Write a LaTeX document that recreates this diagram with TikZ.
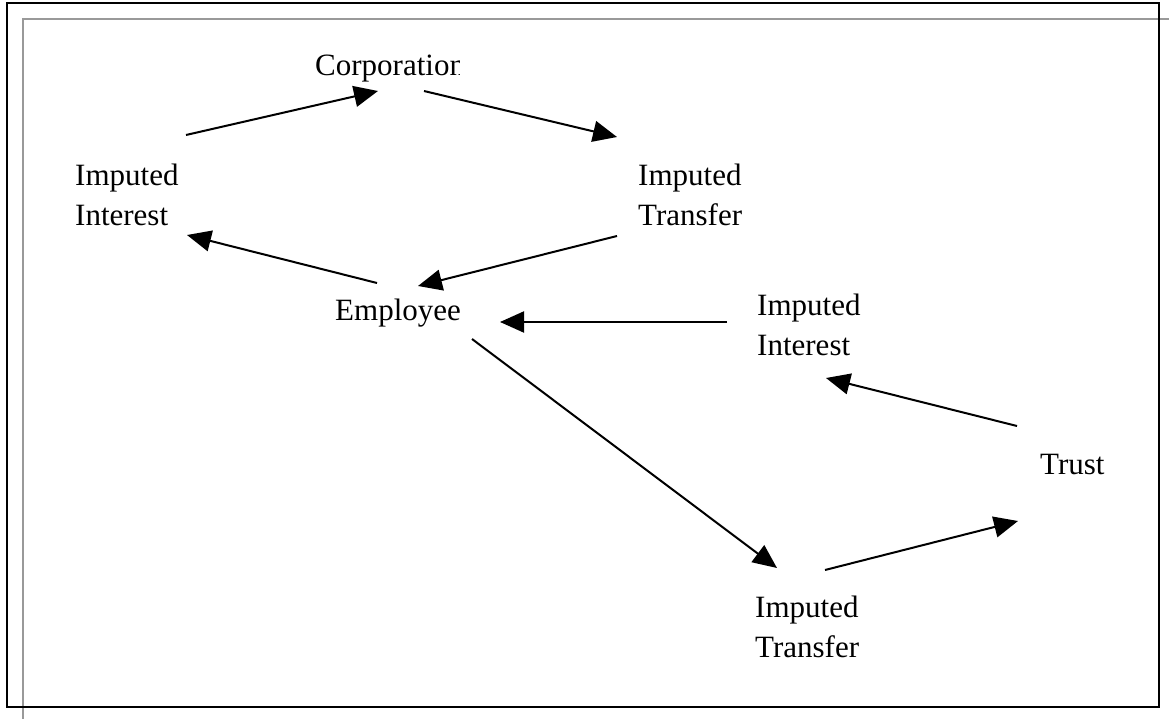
\documentclass[tikz,border=0pt]{standalone}
\usepackage{fontspec}
\setmainfont{Liberation Serif}
\usetikzlibrary{arrows.meta}
\tikzset{
  lbl/.style={anchor=base west, inner sep=0pt, font=\fontsize{31}{40}\selectfont},
  conn/.style={line width=2pt, -{Triangle[length=24pt,width=21pt]}},
  frame/.style={line width=2pt, draw=black},
  shadowline/.style={line width=2pt, draw=black!40}
}
\newcommand{\twoline}[2]{\begin{tabular}[t]{@{}l@{}}#1\\#2\end{tabular}}
\begin{document}
\begin{tikzpicture}[x=1pt,y=-1pt]
\useasboundingbox (0,0) rectangle (1169,719);
% frames
\draw[shadowline] (23,719) -- (23,19) -- (1169,19);
\draw[frame] (7,3) rectangle (1159,707);
% labels
\begin{scope}
\clip (0,0) rectangle (459,719);
\node[lbl] (corp) at (315,76) {Corporation};
\end{scope}
\node[lbl] (iiL) at (75,186) {\twoline{Imputed}{Interest}};
\node[lbl] (itT) at (638,186) {\twoline{Imputed}{Transfer}};
\node[lbl] (emp) at (335,320) {Employee};
\node[lbl] (iiR) at (757,315) {\twoline{Imputed}{Interest}};
\node[lbl] (trust) at (1040,474) {Trust};
\node[lbl] (itB) at (755,617) {\twoline{Imputed}{Transfer}};
% connector end points
\coordinate (a1) at (186,135); \coordinate (a2) at (378,91);
\coordinate (b1) at (424,91);  \coordinate (b2) at (617,137);
\coordinate (c1) at (617,236); \coordinate (c2) at (418,286);
\coordinate (d1) at (377,283); \coordinate (d2) at (187,235);
\coordinate (e1) at (727,322); \coordinate (e2) at (500,322);
\coordinate (f1) at (472,339); \coordinate (f2) at (777,568);
\coordinate (g1) at (825,570); \coordinate (g2) at (1018,521);
\coordinate (h1) at (1017,426); \coordinate (h2) at (826,378);
% connectors
\draw[conn] (a1) -- (a2);
\draw[conn] (b1) -- (b2);
\draw[conn] (c1) -- (c2);
\draw[conn] (d1) -- (d2);
\draw[conn] (e1) -- (e2);
\draw[conn] (f1) -- (f2);
\draw[conn] (g1) -- (g2);
\draw[conn] (h1) -- (h2);
\end{tikzpicture}
\end{document}
